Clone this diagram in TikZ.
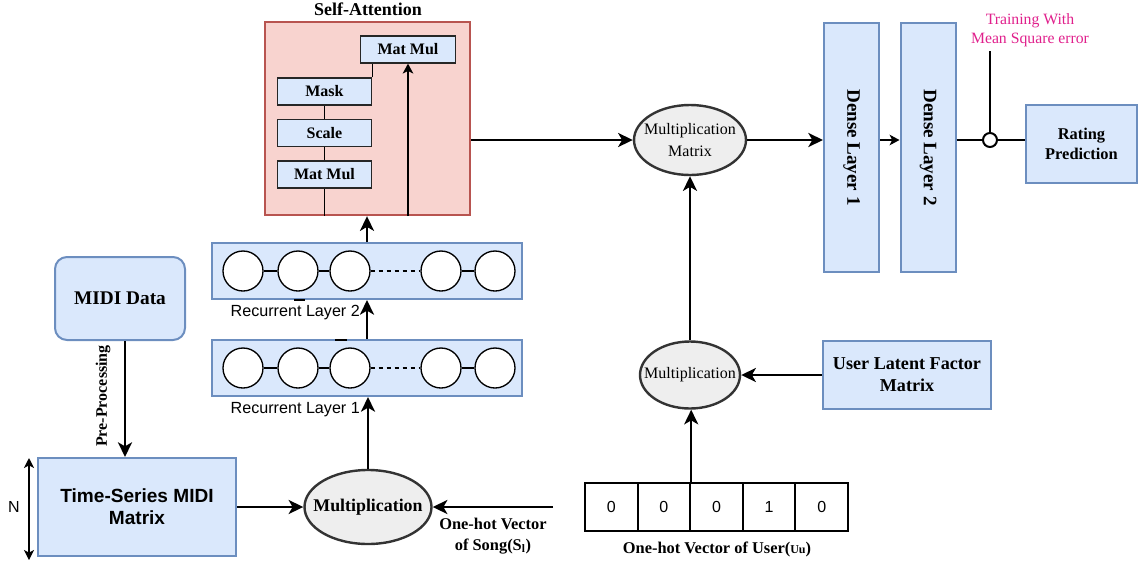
\documentclass[tikz,border=0pt]{standalone}
\usepackage{fontspec}
\setmainfont{Liberation Serif}
\setsansfont{Liberation Sans}
\usetikzlibrary{arrows.meta,shapes.geometric}
\definecolor{boxfill}{HTML}{DAE8FC}
\definecolor{boxline}{HTML}{6C8EBF}
\definecolor{attnfill}{HTML}{F8D3CF}
\definecolor{attnline}{HTML}{B85450}
\definecolor{ellfill}{HTML}{EEEEEE}
\definecolor{ellline}{HTML}{333333}
\definecolor{pinktext}{HTML}{E0208C}

\tikzset{
  bluebox/.style={draw=boxline, fill=boxfill, line width=1.5pt, inner sep=0pt, align=center},
  innerbox/.style={draw=black!85, fill=boxfill, line width=0.9pt, inner sep=0pt,
    minimum width=71pt, minimum height=20.25pt, font=\bfseries\fontsize{12}{14}\selectfont},
  oval/.style={ellipse, draw=ellline, fill=ellfill, line width=1.8pt, inner sep=0pt},
  rnncell/.style={circle, draw=black, fill=white, line width=1pt, minimum size=30pt, inner sep=0pt},
  vcell/.style={rectangle, draw=black, line width=1.5pt, minimum width=39.45pt,
    minimum height=36pt, inner sep=0pt, font=\sffamily\fontsize{12}{14}\selectfont},
  arr/.style={line width=1.8pt, -{Stealth[length=11pt,width=10.5pt,inset=3pt]}},
  thinarr/.style={line width=1pt, -{Stealth[length=7.5pt,width=8pt,inset=2pt]}},
  link/.style={line width=1pt},
}

\begin{document}
\begin{tikzpicture}[x=0.75pt,y=-0.75pt]
\useasboundingbox (0,0) rectangle (1143,565);

% ---------- self-attention block ----------
\node[font=\bfseries\fontsize{13.5}{15}\selectfont] (satitle) at (368,9) {Self-Attention};
\node[draw=attnline, fill=attnfill, line width=1.8pt, minimum width=153.75pt,
      minimum height=144.75pt, inner sep=0pt] (sa) at (367.5,118.5) {};
\node[innerbox] (mmtop) at (408,49.5) {Mat Mul};
\node[innerbox] (mask) at (324.5,91.5) {Mask};
\node[innerbox] (scale) at (324.5,133) {Scale};
\node[innerbox] (mmlow) at (324.5,174.5) {Mat Mul};
\draw[link] (mmlow.south) -- (mmlow.south |- sa.south);
\draw[link] (mmlow.north) -- (scale.south);
\draw[link] (scale.north) -- (mask.south);
\draw[link] (mask.north east) -- (mask.north east |- mmtop.south);
\draw[thinarr] (mmtop.south |- sa.south) -- (mmtop.south);

% ---------- recurrent layers ----------
\node[bluebox, minimum width=232.5pt, minimum height=42pt] (rl2) at (367,271) {};
\node[bluebox, minimum width=232.5pt, minimum height=42pt] (rl1) at (367,368) {};
\foreach \L/\y in {a/271, b/368} {
  \node[rnncell] (\L1) at (243,\y) {};
  \node[rnncell] (\L2) at (298,\y) {};
  \node[rnncell] (\L3) at (350,\y) {};
  \node[rnncell] (\L4) at (441,\y) {};
  \node[rnncell] (\L5) at (495,\y) {};
  \draw[link] (\L1) -- (\L2);
  \draw[link] (\L2) -- (\L3);
  \draw[link, dashed] (\L3) -- (\L4);
  \draw[link] (\L4) -- (\L5);
}
\draw[line width=1.5pt] (294,299.5) -- (305,299.5);
\draw[line width=1.5pt] (335,339.5) -- (347,339.5);
\node[anchor=west, font=\sffamily\fontsize{12.1}{14}\selectfont] (rl2lbl) at (226,313) {Recurrent Layer 2};
\node[anchor=west, font=\sffamily\fontsize{12.1}{14}\selectfont] (rl1lbl) at (226,410) {Recurrent Layer 1};

% ---------- MIDI input ----------
\node[bluebox, rounded corners=9pt, minimum width=97.5pt, minimum height=62.25pt,
      font=\bfseries\fontsize{14.5}{16}\selectfont] (midi) at (120,298.5) {MIDI Data};
\node[bluebox, minimum width=148.5pt, minimum height=73.5pt,
      font=\sffamily\bfseries\fontsize{14.3}{16.5}\selectfont] (ts) at (137,507)
      {Time-Series MIDI\\Matrix};
\draw[arr] ([xshift=3.75pt]midi.south) -- ([xshift=3.75pt]midi.south |- ts.north);
\node[rotate=90, font=\bfseries\fontsize{12}{13}\selectfont] (prelbl) at (103,396) {Pre-Processing};
\coordinate (ntop) at (29,458);
\coordinate (nbot) at (29,560);
\draw[line width=1pt, {Stealth[length=7.5pt,width=7.5pt,inset=2pt]}-{Stealth[length=7.5pt,width=7.5pt,inset=2pt]}] (ntop) -- (nbot);
\node[font=\sffamily\fontsize{12}{14}\selectfont] (nlbl) at (14,507) {N};

% ---------- song multiplication ----------
\node[oval, minimum width=95.25pt, minimum height=55.5pt,
      label={[font=\bfseries\fontsize{13.4}{15}\selectfont]center:Multiplication}] (mult1) at (368,507) {};
\draw[arr] (ts.east) -- (mult1.west);
\coordinate (songin) at (553,507);
\draw[arr] (songin) -- (mult1.east);
\node[align=center, font=\bfseries\fontsize{12.3}{15.75}\selectfont] (songlbl) at (493,536)
  {One-hot Vector\\of Song(S\textsubscript{l})};
\draw[arr] (mult1.north) -- (mult1.north |- rl1.south);
\draw[arr] (rl1.north) -- (rl2.south);
\draw[arr] (rl2.north) -- (rl2.north |- sa.south);

% ---------- user one-hot vector ----------
\node[vcell] (u1) at (611.3,507) {0};
\node[vcell] (u2) at (663.9,507) {0};
\node[vcell] (u3) at (716.5,507) {0};
\node[vcell] (u4) at (769.1,507) {1};
\node[vcell] (u5) at (821.7,507) {0};
\node[font=\bfseries\fontsize{12.3}{14}\selectfont] (userlbl) at (717,549)
  {One-hot Vector of User({\fontsize{9}{10}\selectfont Uu})};

% ---------- user multiplication ----------
\node[oval, minimum width=75pt, minimum height=50.25pt,
      label={[font=\fontsize{12}{14}\selectfont]center:Multiplication}] (mult2) at (690,375) {};
\draw[arr] (u2.north east) -- (u2.north east |- mult2.south);
\node[bluebox, minimum width=126pt, minimum height=51pt,
      font=\bfseries\fontsize{13.6}{16.5}\selectfont] (ulf) at (907,375) {User Latent Factor\\Matrix};
\draw[arr] (ulf.west) -- (mult2.east);

% ---------- merge and dense layers ----------
\node[oval, minimum width=84pt, minimum height=52.5pt,
      label={[font=\fontsize{12}{16.5}\selectfont, align=center]center:Multiplication\\Matrix}] (multmat) at (690,140) {};
\draw[arr] (mult2.north) -- (multmat.south);
\draw[arr] (sa.east |- multmat.west) -- (multmat.west);
\node[bluebox, minimum width=41.25pt, minimum height=186.75pt,
      label={[rotate=-90, font=\bfseries\fontsize{14.3}{16}\selectfont]center:Dense Layer 1}] (d1) at (851.5,147.5) {};
\node[bluebox, minimum width=41.25pt, minimum height=186.75pt,
      label={[rotate=-90, font=\bfseries\fontsize{14.3}{16}\selectfont]center:Dense Layer 2}] (d2) at (928,147.5) {};
\draw[arr] (multmat.east) -- (multmat.east -| d1.west);
\draw[thinarr] (d1.east |- multmat.east) -- (d2.west |- multmat.east);

% ---------- output ----------
\node[bluebox, minimum width=83.25pt, minimum height=58.5pt,
      font=\bfseries\fontsize{12.3}{15.5}\selectfont] (rating) at (1081.5,144) {Rating\\Prediction};
\node[circle, draw=black, fill=white, line width=1.5pt, minimum size=10.5pt, inner sep=0pt] (jn) at (990,140) {};
\draw[link] (d2.east |- jn.west) -- (jn.west);
\draw[link] (jn.east) -- (jn.east -| rating.west);
\coordinate (msetop) at (990,51);
\draw[line width=1.6pt] (msetop) -- (jn.north);
\node[align=center, text=pinktext, font=\fontsize{11.8}{14.5}\selectfont] (msetxt) at (1030,30)
  {Training With\\Mean Square error};
\end{tikzpicture}
\end{document}
